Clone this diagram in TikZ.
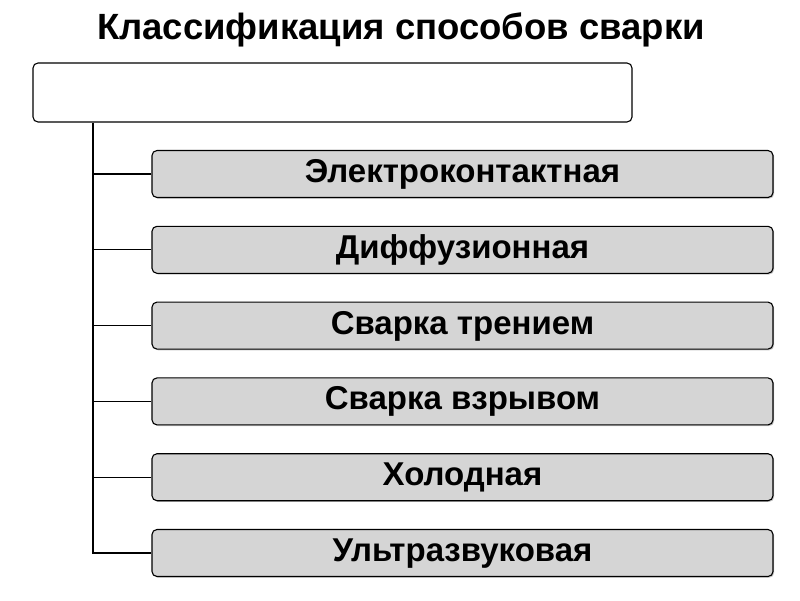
\documentclass[tikz,border=0pt]{standalone}
\usepackage{fontspec}
\setmainfont{Liberation Sans}
\usetikzlibrary{positioning,shadows}
\tikzset {
  x=1pt, y=-1pt,
  every node/.style={font=\bfseries\fontsize{33}{36}\selectfont},
  headbox/.style={draw, line width=1.1pt, rounded corners=5pt, fill=white,
    minimum width=599pt, minimum height=59pt},
  kindbox/.style={draw, line width=1.1pt, rounded corners=5pt, fill=gray!33,
    minimum width=621pt, minimum height=47pt, inner ysep=0pt,
    text height=24pt, text depth=7pt,
    drop shadow={shadow xshift=1.2pt, shadow yshift=-1.2pt, opacity=0.45}},
}

\begin{document}
\begin{tikzpicture}
  \useasboundingbox[fill=white] (0,0) rectangle (800,600);

  \node[font=\bfseries\fontsize{36.5}{40}\selectfont] (title) at (401,30)
    {Классификация способов сварки};
  \node[headbox] (head) at (332.5,92.5) {};

  \node[kindbox] (b1) at (462.5,174) {Электроконтактная};
  \node[kindbox, below=27.7pt of b1] (b2) {Диффузионная};
  \node[kindbox, below=27.7pt of b2] (b3) {Сварка трением};
  \node[kindbox, below=27.7pt of b3] (b4) {Сварка взрывом};
  \node[kindbox, below=27.7pt of b4] (b5) {Холодная};
  \node[kindbox, below=27.7pt of b5] (b6) {Ультразвуковая};

  \coordinate (trunk) at (93,0);
  \begin{scope}[line width=1.1pt]
    \draw (head.south -| trunk) |- (b6.west);
    \draw (b1.west) -- (b1.west -| trunk);
    \draw (b2.west) -- (b2.west -| trunk);
    \draw (b3.west) -- (b3.west -| trunk);
    \draw (b4.west) -- (b4.west -| trunk);
    \draw (b5.west) -- (b5.west -| trunk);
  \end{scope}
\end{tikzpicture}
\end{document}
